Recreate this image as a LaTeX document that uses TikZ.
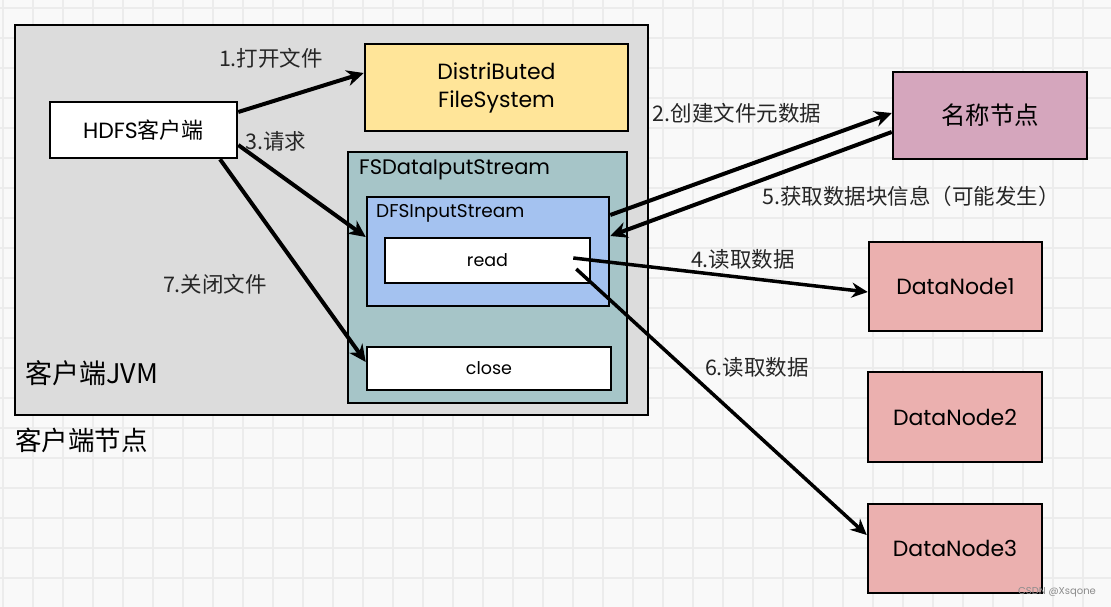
\documentclass[tikz,border=0pt]{standalone}
\usepackage{fontspec}
\setmainfont{Poppins}
\newfontfamily\cjk{Noto Sans CJK SC}
\usetikzlibrary{arrows.meta}
\definecolor{bgc}{HTML}{F9F9F9}
\definecolor{gridc}{HTML}{ECECEC}
\definecolor{jvmc}{HTML}{DCDCDC}
\definecolor{dfsc}{HTML}{FFE599}
\definecolor{fsdc}{HTML}{A6C5C8}
\definecolor{dfsinc}{HTML}{A4C2F0}
\definecolor{nnc}{HTML}{D5A6BD}
\definecolor{dnc}{HTML}{EBB0AF}
\begin{document}
\begin{tikzpicture}[x=1pt,y=-1pt,
  box/.style={draw=black, line width=2.5pt, inner sep=0pt, align=center},
  lbl/.style={inner sep=0pt, font=\cjk\fontsize{21.5}{24}\selectfont, text=black!85},
  arr/.style={line width=4pt, -{Stealth[length=17pt,width=16pt]}},
  arrthin/.style={line width=3.5pt, -{Stealth[length=16pt,width=15pt]}}]
\useasboundingbox (0,0) rectangle (1111,607);
\fill[bgc] (0,0) rectangle (1111,607);
\foreach \x in {3,33,...,1110} \draw[gridc,line width=1.5pt] (\x,0) -- (\x,607);
\foreach \y in {8,38,...,606} \draw[gridc,line width=1.5pt] (0,\y) -- (1111,\y);

% containers
\node[box, fill=jvmc, minimum width=633pt, minimum height=390pt] (jvm) at (331.5,220) {};
\node[box, fill=fsdc, minimum width=279pt, minimum height=251pt] (fsd) at (487.5,277.5) {};
\node[box, fill=dfsinc, minimum width=242pt, minimum height=109pt] (dfsin) at (488,251.5) {};

% boxes
\node[box, fill=white, minimum width=187pt, minimum height=56pt, font=\fontsize{22}{26}\selectfont] (hdfs) at (143.5,130) {HDFS{\cjk 客户端}};
\node[box, fill=dfsc, minimum width=263pt, minimum height=87pt, font=\fontsize{22}{28}\selectfont] (dfs) at (496.5,87.5) {DistriButed\\FileSystem};
\node[box, fill=white, minimum width=205pt, minimum height=45pt, font=\fontsize{17.5}{20}\selectfont] (read) at (487.5,260.5) {read};
\node[box, fill=white, minimum width=244pt, minimum height=43pt, font=\fontsize{17.5}{20}\selectfont] (close) at (489,368.5) {close};
\node[box, fill=nnc, minimum width=194pt, minimum height=87pt, font=\cjk\fontsize{24.5}{28}\selectfont] (nn) at (990,115.5) {名称节点};
\node[box, fill=dnc, minimum width=173pt, minimum height=89pt, font=\fontsize{22}{26}\selectfont] (dn1) at (955.5,286.5) {DataNode1};
\node[box, fill=dnc, minimum width=174pt, minimum height=90pt, font=\fontsize{22}{26}\selectfont] (dn2) at (955,417) {DataNode2};
\node[box, fill=dnc, minimum width=174pt, minimum height=89pt, font=\fontsize{22}{26}\selectfont] (dn3) at (955,548.5) {DataNode3};

% container labels
\node[inner sep=0pt, anchor=west, font=\fontsize{21}{24}\selectfont] (fsdl) at (359,170) {FSDataIputStream};
\node[inner sep=0pt, anchor=west, font=\fontsize{18.5}{22}\selectfont] (dfsinl) at (376,213) {DFSInputStream};
\node[inner sep=0pt, anchor=west, font=\cjk\fontsize{27}{30}\selectfont] (jvml) at (25,373) {客户端JVM};
\node[inner sep=0pt, anchor=west, font=\cjk\fontsize{26.5}{30}\selectfont] (nodel) at (15,440) {客户端节点};

% arrows
\draw[arr] ([yshift=18pt]hdfs.east) -- ([yshift=14.5pt]dfs.west);
\draw[arr] ([yshift=-15pt]hdfs.east) -- ([yshift=14.5pt]dfsin.west);
\draw[arr] ([xshift=76.5pt]hdfs.south) -- ([yshift=6.5pt]close.west);
\draw[arr] ([yshift=36.5pt]dfsin.east) -- ([yshift=2.5pt]nn.west);
\draw[arr] ([yshift=-16.5pt]nn.west) -- ([yshift=15.5pt]dfsin.east);
\draw[arrthin] ([xshift=-18pt,yshift=2.5pt]read.east) -- ([yshift=-5.5pt]dn1.west);
\draw[arrthin] ([xshift=-15pt,yshift=-8.5pt]read.east) -- ([yshift=13.5pt]dn3.west);

% arrow labels
\node[lbl] (l1) at (271,58) {1.打开文件};
\node[lbl] (l3) at (276,141) {3.请求};
\node[lbl] (l2) at (737,113) {2.创建文件元数据};
\node[lbl] (l5) at (911,196) {5.获取数据块信息（可能发生）};
\node[lbl] (l4) at (743,259) {4.读取数据};
\node[lbl] (l6) at (757,367) {6.读取数据};
\node[lbl] (l7) at (215,284) {7.关闭文件};
\node[inner sep=0pt, font=\fontsize{10}{12}\selectfont, text=black!45] (wm) at (1057,592) {CSDN @Xsqone};
\end{tikzpicture}
\end{document}
